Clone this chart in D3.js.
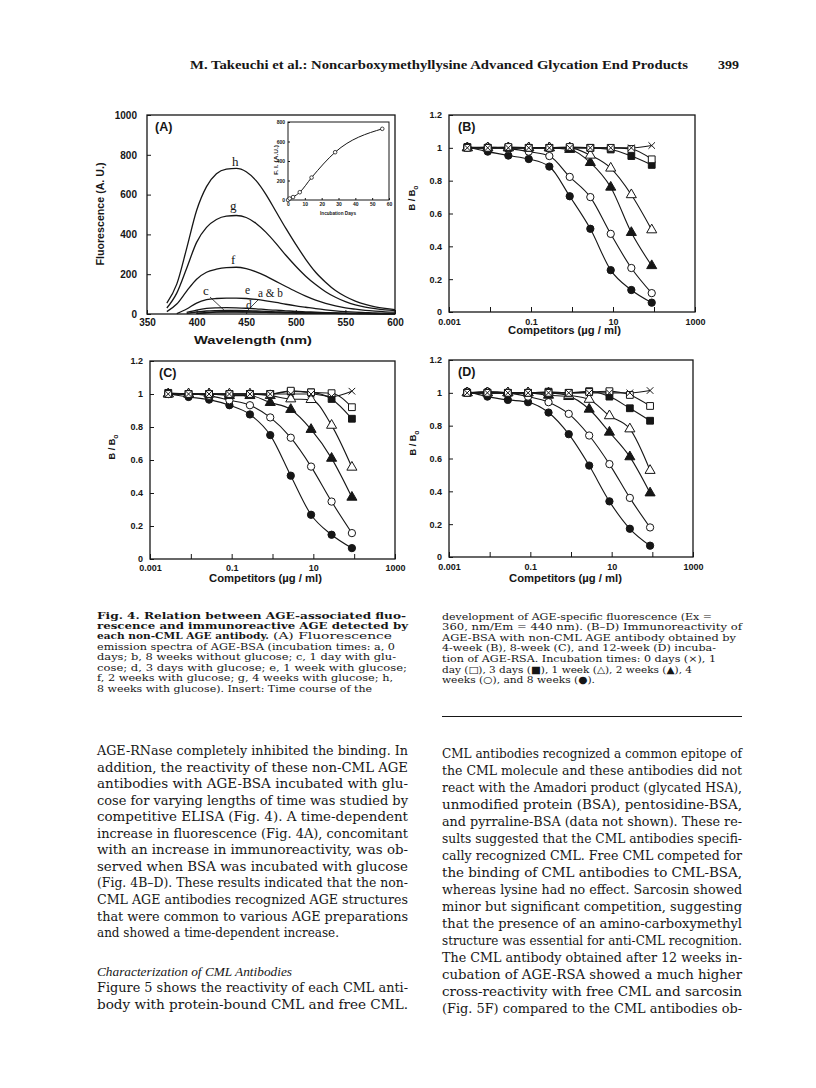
<!DOCTYPE html>
<html>
<head>
<meta charset="utf-8">
<script src="https://cdn.jsdelivr.net/npm/d3@7"></script>
<style>
  body { margin: 0; background: #fff; }
  svg { display: block; }
</style>
</head>
<body>
<svg id="page" width="816" height="1088"></svg>
<script>
// ---------- Fig. 4A: emission spectra (values every 10 nm) ----------
var wavelengths = [370, 380, 390, 400, 410, 420, 430, 440, 450, 460, 470, 480,
                   490, 500, 510, 520, 530, 540, 550, 560, 570, 580, 590, 600];
var specH = [55, 150, 330, 520, 640, 705, 728, 732, 715, 670, 600, 515, 430, 350, 275, 210, 160, 118, 88, 65, 48, 36, 28, 22];
var specG = [30, 105, 230, 360, 435, 475, 492, 495, 485, 455, 410, 355, 295, 240, 190, 148, 112, 84, 62, 46, 35, 27, 21, 17];
var specF = [12, 50, 115, 175, 210, 225, 233, 235, 228, 212, 190, 164, 138, 113, 90, 70, 54, 41, 31, 24, 18, 14, 11, 9];
var specE = [null, 2, 25, 55, 72, 78, 80, 80, 78, 73, 66, 58, 49, 41, 34, 27, 21, 16, 12, 9, 7, 5, 4, 3];
var specD = [null, null, 8, 20, 28, 31, 32, 31, 29, 26, 22, 19, 16, 13, 11, 9, 7, 5, 4, 3, 3, 2, 2, 2];
var specC = [null, null, 3, 10, 15, 17, 18, 18, 17, 15, 13, 11, 9, 8, 7, 6, 5, 4, 3, 3, 2, 2, 2, 2];
var specB = [null, null, null, 3, 8, 11, 12, 12, 11, 10, 9, 8, 7, 6, 5, 4, 4, 3, 3, 2, 2, 2, 1, 1];
var specA = [null, null, null, 2, 6, 9, 10, 10, 10, 9, 8, 7, 6, 5, 4, 4, 3, 3, 2, 2, 2, 1, 1, 1];
var wlTicks = [350, 400, 450, 500, 550, 600];
var fluTicks = [0, 200, 400, 600, 800, 1000];

// inset: time course of fluorescence
var insetDays = [0, 1, 3, 7, 14, 28, 56];
var insetFI = [0, 15, 30, 80, 230, 490, 730];
var insetDayTicks = [0, 10, 20, 30, 40, 50, 60];
var insetFITicks = [0, 200, 400, 600, 800];

// ---------- Fig. 4B-D: competitive ELISA, B/B0 ----------
var concentrations = [0.0028, 0.0088, 0.028, 0.088, 0.28, 0.88, 2.8, 8.8, 28, 88];
var concTicks = [0.001, 0.01, 0.1, 1, 10, 100, 1000];
var concTickLabels = ["0.001", "", "0.1", "", "10", "", "1000"];
var ratioTicks = [0, 0.2, 0.4, 0.6, 0.8, 1, 1.2];
var ratioTickLabels = ["0", "0.2", "0.4", "0.6", "0.8", "1", "1.2"];

var b0days  = [1.0, 1.0, 1.0, 1.0, 1.0, 1.0, 1.0, 1.0, 1.0, 1.014];
var b1day   = [1.0, 1.0, 1.005, 1.0, 1.0, 1.005, 1.0, 1.0, 0.993, 0.93];
var b3days  = [1.005, 1.0, 1.0, 1.0, 1.0, 1.0, 1.0, 0.99, 0.95, 0.896];
var b1week  = [1.0, 1.0, 1.0, 1.0, 1.0, 1.0, 0.955, 0.876, 0.714, 0.50];
var b2weeks = [1.0, 1.0, 1.0, 1.0, 1.0, 0.99, 0.91, 0.76, 0.484, 0.282];
var b4weeks = [1.0, 1.005, 0.995, 0.977, 0.95, 0.823, 0.70, 0.476, 0.268, 0.115];
var b8weeks = [1.005, 0.977, 0.953, 0.932, 0.886, 0.705, 0.507, 0.255, 0.134, 0.057];

var c0days  = [1.0, 1.0, 1.0, 1.0, 1.0, 1.0, 1.0, 1.0, 0.985, 1.017];
var c1day   = [1.0, 1.0, 1.0, 1.0, 1.0, 1.0, 1.02, 1.01, 1.005, 0.92];
var c3days  = [1.007, 1.0, 1.0, 1.0, 1.0, 1.0, 1.015, 1.01, 0.97, 0.85];
var c1week  = [1.0, 1.0, 1.0, 1.0, 1.0, 0.99, 0.97, 0.966, 0.81, 0.556];
var c2weeks = [1.0, 1.0, 1.0, 0.99, 0.99, 0.948, 0.906, 0.785, 0.61, 0.374];
var c4weeks = [1.0, 1.0, 0.99, 0.962, 0.932, 0.858, 0.735, 0.56, 0.348, 0.157];
var c8weeks = [1.0, 0.982, 0.966, 0.932, 0.876, 0.751, 0.505, 0.268, 0.147, 0.066];

var d0days  = [1.0, 1.0, 1.0, 1.0, 1.0, 1.0, 1.0, 1.0, 1.0, 1.014];
var d1day   = [1.0, 1.0, 1.0, 1.0, 1.0, 1.0, 1.005, 1.01, 0.987, 0.92];
var d3days  = [1.0, 1.0, 1.0, 1.0, 1.007, 1.0, 1.01, 0.977, 0.906, 0.83];
var d1week  = [1.0, 1.0, 1.0, 1.0, 1.0, 0.985, 0.96, 0.86, 0.78, 0.527];
var d2weeks = [1.0, 1.0, 1.0, 1.0, 0.985, 0.977, 0.90, 0.76, 0.61, 0.39];
var d4weeks = [1.0, 1.008, 1.0, 0.977, 0.943, 0.872, 0.74, 0.566, 0.36, 0.18];
var d8weeks = [1.008, 0.977, 0.957, 0.943, 0.88, 0.748, 0.557, 0.339, 0.172, 0.069];

// ---------- page text ----------
var headerText = "M. Takeuchi et al.: Noncarboxymethyllysine Advanced Glycation End Products";
var pageNumber = "399";

var captionLeft = [
  "Fig. 4.  Relation between AGE-associated fluo-",
  "rescence and immunoreactive AGE detected by",
  "each non-CML AGE antibody.",
  "emission spectra of AGE-BSA (incubation times: a, 0",
  "days; b, 8 weeks without glucose; c, 1 day with glu-",
  "cose; d, 3 days with glucose; e, 1 week with glucose;",
  "f, 2 weeks with glucose; g, 4 weeks with glucose; h,",
  "8 weeks with glucose). Insert: Time course of the"
];
var captionLeftTail = "(A) Fluorescence";
var captionRight = [
  "development of AGE-specific fluorescence (Ex =",
  "360, nm/Em = 440 nm). (B\u2013D) Immunoreactivity of",
  "AGE-BSA with non-CML AGE antibody obtained by",
  "4-week (B), 8-week (C), and 12-week (D) incuba-",
  "tion of AGE-RSA. Incubation times: 0 days (\u00d7), 1",
  "day (\u25a1), 3 days (\u25a0), 1 week (\u25b3), 2 weeks (\u25b2), 4",
  "weeks (\u25cb), and 8 weeks (\u25cf)."
];
var bodyLeft = [
  "AGE-RNase completely inhibited the binding. In",
  "addition, the reactivity of these non-CML AGE",
  "antibodies with AGE-BSA incubated with glu-",
  "cose for varying lengths of time was studied by",
  "competitive ELISA (Fig. 4). A time-dependent",
  "increase in fluorescence (Fig. 4A), concomitant",
  "with an increase in immunoreactivity, was ob-",
  "served when BSA was incubated with glucose",
  "(Fig. 4B\u2013D). These results indicated that the non-",
  "CML AGE antibodies recognized AGE structures",
  "that were common to various AGE preparations",
  "and showed a time-dependent increase."
];
var sectionHeading = "Characterization of CML Antibodies";
var bodyLeft2 = [
  "Figure 5 shows the reactivity of each CML anti-",
  "body with protein-bound CML and free CML."
];
var bodyRight = [
  "CML antibodies recognized a common epitope of",
  "the CML molecule and these antibodies did not",
  "react with the Amadori product (glycated HSA),",
  "unmodified protein (BSA), pentosidine-BSA,",
  "and pyrraline-BSA (data not shown). These re-",
  "sults suggested that the CML antibodies specifi-",
  "cally recognized CML. Free CML competed for",
  "the binding of CML antibodies to CML-BSA,",
  "whereas lysine had no effect. Sarcosin showed",
  "minor but significant competition, suggesting",
  "that the presence of an amino-carboxymethyl",
  "structure was essential for anti-CML recognition.",
  "The CML antibody obtained after 12 weeks in-",
  "cubation of AGE-RSA showed a much higher",
  "cross-reactivity with free CML and sarcosin",
  "(Fig. 5F) compared to the CML antibodies ob-"
];

var INK = "#161616";
var SERIF = "'DejaVu Serif', serif";
var TIMES = "'Liberation Serif', serif";
var SANS = "'Liberation Sans', Arial, sans-serif";
var svg = d3.select("#page");
svg.append("rect").attr("width", 816).attr("height", 1088).attr("fill", "#fff");

// one line of text, stretched to [x0, x1] when x1 is given
function textLine(x0, x1, y, str, size, opts) {
  opts = opts || {};
  var t = svg.append("text")
    .attr("x", x0).attr("y", y)
    .attr("font-family", opts.family || SERIF)
    .attr("font-size", size)
    .attr("fill", INK)
    .text(str);
  if (opts.bold) t.attr("font-weight", "bold");
  if (opts.italic) t.attr("font-style", "italic");
  if (x1) t.attr("textLength", x1 - x0).attr("lengthAdjust", "spacingAndGlyphs");
  return t;
}

function styleAxis(sel, size) {
  sel.attr("font-family", null).attr("font-size", null);
  sel.select(".domain").remove();
  sel.selectAll("line").attr("stroke", INK).attr("stroke-width", 1);
  sel.selectAll("text")
    .attr("fill", INK)
    .attr("font-family", SANS)
    .attr("font-weight", "bold")
    .attr("font-size", size);
}

function rotatedLabel(g, cx, cy, len, size) {
  return g.append("text")
    .attr("transform", "translate(" + cx + "," + cy + ") rotate(-90)")
    .attr("x", -len / 2).attr("y", 0)
    .attr("textLength", len).attr("lengthAdjust", "spacingAndGlyphs")
    .attr("font-family", SANS).attr("font-weight", "bold")
    .attr("font-size", size).attr("fill", INK);
}

// ---------- panel A ----------
function drawPanelA() {
  var b = {x0: 147, x1: 395, y0: 115, y1: 314};
  var x = d3.scaleLinear().domain([350, 600]).range([b.x0, b.x1]);
  var y = d3.scaleLinear().domain([0, 1000]).range([b.y1, b.y0]);
  var g = svg.append("g");

  var xa = g.append("g").attr("transform", "translate(0," + b.y1 + ")")
    .call(d3.axisBottom(x).tickValues(wlTicks).tickSize(-4).tickFormat(d3.format("d")));
  xa.selectAll("text").attr("y", 12).attr("dy", null);
  styleAxis(xa, 10);

  var ya = g.append("g").attr("transform", "translate(" + b.x0 + ",0)")
    .call(d3.axisLeft(y).tickValues(fluTicks).tickSize(-4).tickFormat(d3.format("d")));
  ya.selectAll("text").attr("x", -10);
  styleAxis(ya, 10);

  g.append("rect").attr("x", b.x0).attr("y", b.y0)
    .attr("width", b.x1 - b.x0).attr("height", b.y1 - b.y0)
    .attr("fill", "none").attr("stroke", INK).attr("stroke-width", 1.3);

  var line = d3.line()
    .defined(function(d) { return d[1] != null; })
    .x(function(d) { return x(d[0]); })
    .y(function(d) { return y(d[1]); })
    .curve(d3.curveMonotoneX);

  [specA, specB, specC, specD, specE, specF, specG, specH].forEach(function(s) {
    g.append("path")
      .datum(wavelengths.map(function(w, i) { return [w, s[i]]; }))
      .attr("d", line)
      .attr("fill", "none").attr("stroke", INK).attr("stroke-width", 1.3);
  });

  // curve letters
  var letters = [["h", 232, 166, 13], ["g", 230, 210, 13], ["f", 231, 264, 13],
                 ["c", 203, 295, 13], ["e", 245, 294, 11.5], ["d", 246, 308.5, 11.5]];
  letters.forEach(function(l) {
    g.append("text").attr("x", l[1]).attr("y", l[2]).text(l[0])
      .attr("font-family", TIMES).attr("font-size", l[3]).attr("fill", INK);
  });
  g.append("text").attr("x", 258).attr("y", 297).text("a & b")
    .attr("textLength", 25).attr("lengthAdjust", "spacingAndGlyphs")
    .attr("font-family", TIMES).attr("font-size", 13).attr("fill", INK);
  g.append("line").attr("x1", 210).attr("y1", 297).attr("x2", 226).attr("y2", 312)
    .attr("stroke", INK).attr("stroke-width", 0.8);
  g.append("line").attr("x1", 259).attr("y1", 299).attr("x2", 246).attr("y2", 312)
    .attr("stroke", INK).attr("stroke-width", 0.8);

  g.append("text").attr("x", 155).attr("y", 131).text("(A)")
    .attr("font-family", SANS).attr("font-weight", "bold").attr("font-size", 12.5).attr("fill", INK);

  g.append("text").attr("x", 194).attr("y", 344).text("Wavelength  (nm)")
    .attr("textLength", 118).attr("lengthAdjust", "spacingAndGlyphs")
    .attr("font-family", SANS).attr("font-weight", "bold").attr("font-size", 11).attr("fill", INK);
  rotatedLabel(g, 104, 214, 103, 10).text("Fluorescence  (A. U.)");

  // inset
  var ib = {x0: 288, x1: 389, y0: 122, y1: 200};
  var ix = d3.scaleLinear().domain([0, 60]).range([ib.x0, ib.x1]);
  var iy = d3.scaleLinear().domain([0, 800]).range([ib.y1, ib.y0]);
  var ixa = g.append("g").attr("transform", "translate(0," + ib.y1 + ")")
    .call(d3.axisBottom(ix).tickValues(insetDayTicks).tickSize(-2).tickFormat(d3.format("d")));
  ixa.selectAll("text").attr("y", 6).attr("dy", null);
  styleAxis(ixa, 5);
  var iya = g.append("g").attr("transform", "translate(" + ib.x0 + ",0)")
    .call(d3.axisLeft(iy).tickValues(insetFITicks).tickSize(-2).tickFormat(d3.format("d")));
  iya.selectAll("text").attr("x", -3);
  styleAxis(iya, 5);
  g.append("rect").attr("x", ib.x0).attr("y", ib.y0)
    .attr("width", ib.x1 - ib.x0).attr("height", ib.y1 - ib.y0)
    .attr("fill", "none").attr("stroke", INK).attr("stroke-width", 1);
  var iline = d3.line()
    .x(function(d, i) { return ix(insetDays[i]); })
    .y(function(d) { return iy(d); })
    .curve(d3.curveMonotoneX);
  g.append("path").datum(insetFI).attr("d", iline)
    .attr("fill", "none").attr("stroke", INK).attr("stroke-width", 1);
  g.selectAll(".ipt").data(insetFI).enter().append("circle")
    .attr("cx", function(d, i) { return ix(insetDays[i]); })
    .attr("cy", function(d) { return iy(d); })
    .attr("r", 1.8).attr("fill", "#fff").attr("stroke", INK).attr("stroke-width", 0.8);
  g.append("text").attr("x", 320).attr("y", 215).text("Incubation  Days")
    .attr("textLength", 36).attr("lengthAdjust", "spacingAndGlyphs")
    .attr("font-family", SANS).attr("font-weight", "bold").attr("font-size", 5.5).attr("fill", INK);
  rotatedLabel(g, 278, 160, 30, 5.5).text("F. I.  (A.U.)");
}

// ---------- panels B-D ----------
function drawCompetition(b, series, letter, t) {
  var x = d3.scaleLog().domain([0.001, 1000]).range([b.x0, b.x1]);
  var y = d3.scaleLinear().domain([0, 1.2]).range([b.y1, b.y0]);
  var g = svg.append("g");

  var xa = g.append("g").attr("transform", "translate(0," + b.y1 + ")")
    .call(d3.axisBottom(x).tickValues(concTicks).tickSize(-5)
      .tickFormat(function(d, i) { return concTickLabels[i]; }));
  xa.selectAll("text").attr("y", t.xlab).attr("dy", null);
  styleAxis(xa, 9);

  var ya = g.append("g").attr("transform", "translate(" + b.x0 + ",0)")
    .call(d3.axisLeft(y).tickValues(ratioTicks).tickSize(-4)
      .tickFormat(function(d, i) { return ratioTickLabels[i]; }));
  ya.selectAll("text").attr("x", -7);
  styleAxis(ya, 9);

  g.append("rect").attr("x", b.x0).attr("y", b.y0)
    .attr("width", b.x1 - b.x0).attr("height", b.y1 - b.y0)
    .attr("fill", "none").attr("stroke", INK).attr("stroke-width", 1.3);

  var line = d3.line()
    .x(function(d, i) { return x(concentrations[i]); })
    .y(function(d) { return y(d); })
    .curve(d3.curveMonotoneX);

  // drawing order: 8 wk, 4 wk, 2 wk, 1 wk, 3 d, 1 d, 0 d
  var marks = [
    {type: d3.symbolCircle, size: 42, fill: INK},
    {type: d3.symbolCircle, size: 42, fill: "#fff"},
    {type: d3.symbolTriangle, size: 44, fill: INK},
    {type: d3.symbolTriangle, size: 44, fill: "#fff"},
    {type: d3.symbolSquare, size: 46, fill: INK},
    {type: d3.symbolSquare, size: 46, fill: "#fff"},
    {type: d3.symbolX, size: 30, fill: "none"}
  ];
  series.forEach(function(s) {
    g.append("path").datum(s).attr("d", line)
      .attr("fill", "none").attr("stroke", INK).attr("stroke-width", 1.1);
  });
  series.forEach(function(s, k) {
    var m = marks[k];
    g.selectAll(null).data(s).enter().append("path")
      .attr("transform", function(d, i) {
        return "translate(" + x(concentrations[i]) + "," + y(d) + ")";
      })
      .attr("d", d3.symbol().type(m.type).size(m.size))
      .attr("fill", m.fill).attr("stroke", INK).attr("stroke-width", 1);
  });

  g.append("text").attr("x", b.x0 + 9).attr("y", b.y0 + 16).text(letter)
    .attr("font-family", SANS).attr("font-weight", "bold").attr("font-size", 12.5).attr("fill", INK);
  g.append("text").attr("x", t.titleX).attr("y", t.titleY).text("Competitors  (\u00b5g / ml)")
    .attr("textLength", 113).attr("lengthAdjust", "spacingAndGlyphs")
    .attr("font-family", SANS).attr("font-weight", "bold").attr("font-size", 10).attr("fill", INK);
  var lab = rotatedLabel(g, t.yLabX, t.yLabY, 25, 9.5);
  lab.append("tspan").text("B / B");
  lab.append("tspan").attr("dy", 2.5).attr("font-size", 7).text("o");
}

drawPanelA();
drawCompetition({x0: 449, x1: 695, y0: 115, y1: 312},
  [b8weeks, b4weeks, b2weeks, b1week, b3days, b1day, b0days], "(B)",
  {xlab: 12.5, titleX: 508, titleY: 334, yLabX: 415, yLabY: 198});
drawCompetition({x0: 150, x1: 395, y0: 361, y1: 559},
  [c8weeks, c4weeks, c2weeks, c1week, c3days, c1day, c0days], "(C)",
  {xlab: 12, titleX: 209, titleY: 582, yLabX: 115, yLabY: 447});
drawCompetition({x0: 449, x1: 693, y0: 360, y1: 557},
  [d8weeks, d4weeks, d2weeks, d1week, d3days, d1day, d0days], "(D)",
  {xlab: 12.5, titleX: 509, titleY: 582, yLabX: 416, yLabY: 443});

// ---------- running head ----------
textLine(190, 688, 69, headerText, 13.5, {bold: true, family: TIMES});
textLine(718, 739, 69, pageNumber, 13.5, {bold: true, family: TIMES});

// ---------- caption ----------
var capLeftEnds = [406, 408, 269, 395, 396, 407, 393, 372];
captionLeft.forEach(function(s, i) {
  textLine(97, capLeftEnds[i], 618.5 + 10.45 * i, s, 9.6, {bold: i < 3});
});
textLine(273, 392, 618.5 + 10.45 * 2, captionLeftTail, 9.6);

var capRightEnds = [712, 742, 736, 716, 716, 692, 595];
captionRight.forEach(function(s, i) {
  textLine(442, capRightEnds[i], 619.5 + 10.6 * i, s, 9.6);
});
svg.append("line").attr("x1", 442).attr("x2", 742).attr("y1", 716.5).attr("y2", 716.5)
  .attr("stroke", INK).attr("stroke-width", 1);

// ---------- body text ----------
bodyLeft.forEach(function(s, i) {
  textLine(97, i === bodyLeft.length - 1 ? 339 : 408, 755 + 16.55 * i, s, 12.3);
});
textLine(97, 292, 975.5, sectionHeading, 13.5, {italic: true, family: TIMES});
bodyLeft2.forEach(function(s, i) {
  textLine(97, 408, 992 + 16.6 * i, s, 12.3);
});
bodyRight.forEach(function(s, i) {
  textLine(442, 742, 757.5 + 17.05 * i, s, 12.3);
});
</script>
</body>
</html>
